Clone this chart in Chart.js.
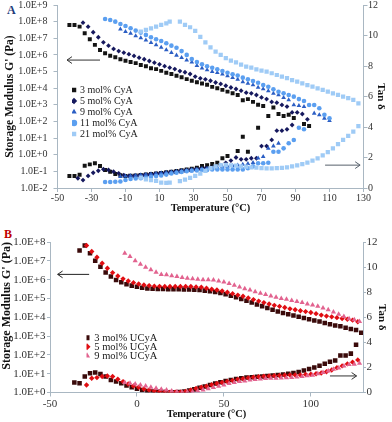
<!DOCTYPE html>
<html><head><meta charset="utf-8">
<script src="https://cdn.jsdelivr.net/npm/chart.js"></script>
<style>
html,body{margin:0;padding:0;background:#fff;width:392px;height:422px;overflow:hidden;position:relative}
canvas{position:absolute;left:0}
.lbl{position:absolute;font-family:'Liberation Serif',serif;font-weight:bold;font-size:12px;line-height:1}
</style></head><body>
<div class="lbl" style="left:7px;top:4px;color:#1f3d7a">A</div>
<div class="lbl" style="left:4px;top:228px;color:#c00000">B</div>
<canvas id="cA" width="392" height="233" style="top:-15px"></canvas>
<canvas id="cB" width="392" height="200" style="top:222px"></canvas>
<script>
// ---------- Panel A : CyA ----------
const xTicksA = [-50,-30,-10,10,30,50,70,90,110,130];
const tA3 = [-43,-40,-37,-34,-31,-28,-25,-22,-19,-16,-13,-10,-7,-4,-1,2,5,8,11,14,17,20,23,26,29,32,35,38,41,44,47,50,53,56,59,62,65,68,71,74,77,80,83,86,89,95,98];
const gA3 = [6.3e7,6.3e7,5.0e7,2.0e7,8.7e6,4.0e6,2.0e6,1.26e6,9.0e5,7.2e5,5.5e5,4.5e5,3.7e5,3.2e5,2.5e5,2.1e5,1.6e5,1.4e5,1.1e5,8.5e4,7.1e4,5.6e4,4.5e4,3.5e4,2.8e4,2.3e4,1.9e4,1.6e4,1.2e4,1.0e4,7.9e3,6.2e3,5.0e3,3.9e3,1.9e3,2.2e3,1.5e3,1.0e3,8.5e2,null,6.8e2,2.8e2,2.1e2,2.5e2,1.6e2,71,54];
const dA3 = [0.79,0.79,0.87,1.46,1.55,1.62,1.44,1.18,1.07,0.92,0.83,0.79,0.80,0.82,0.85,0.88,0.92,0.95,0.99,1.03,1.07,1.12,1.17,1.22,1.27,1.33,1.44,1.50,1.58,1.66,1.95,2.10,null,2.43,3.36,2.38,null,3.95,null,4.72,null,null,null,null,null,null,null];

const tA5 = [-38,-35,-32,-29,-26,-23,-20,-17,-14,-11,-8,-5,-2,1,4,7,10,13,16,19,22,25,28,31,34,37,40,43,46,49,52,55,58,61,64,67,70,73,76,79,82,85,88,91,94,97];
const gA5 = [null,8.7e7,5.0e7,2.3e7,1.15e7,5.7e6,3.6e6,2.3e6,1.7e6,1.36e6,1.1e6,8.7e5,6.8e5,5.5e5,4.3e5,3.4e5,2.7e5,2.1e5,1.7e5,1.4e5,1.07e5,9.1e4,7.1e4,5.0e4,3.9e4,3.4e4,2.8e4,2.2e4,1.8e4,1.4e4,1.1e4,8.9e3,7.1e3,5.4e3,4.9e3,3.9e3,2.8e3,2.2e3,1.5e3,1.35e3,9.8e2,7.8e2,3.5e2,3.5e2,2.8e2,1.35e2];
const dA5 = [0.64,0.52,0.79,1.00,1.13,1.23,1.18,1.07,0.96,0.85,0.79,0.80,0.82,0.85,0.88,0.91,0.95,0.98,1.02,1.06,1.10,1.14,1.18,1.22,1.26,1.30,1.34,1.40,1.50,1.65,1.80,2.00,1.88,1.88,1.95,1.95,2.75,2.75,3.15,3.76,3.76,3.85,4.13,null,null,null];

const tA9 = [-13,-10,-7,-4,-1,2,5,8,11,14,17,20,23,26,29,32,35,38,41,44,47,50,53,56,59,62,65,68,71,74,77,80,83,86,89,92,95,98,101,104,107,110];
const gA9 = [3.5e7,2.5e7,1.95e7,1.38e7,1.05e7,7.6e6,5.4e6,4.0e6,2.8e6,2.0e6,1.36e6,9.5e5,6.8e5,4.8e5,3.7e5,2.3e5,1.58e5,1.24e5,9.8e4,8.5e4,6.9e4,5.4e4,4.3e4,3.4e4,2.4e4,1.95e4,1.55e4,1.1e4,8.9e3,6.8e3,4.9e3,3.9e3,2.7e3,1.95e3,9.8e2,8.9e2,7.8e2,null,3.1e2,2.5e2,1.55e2,1.12e2];
const dA9 = [0.75,0.78,0.80,0.83,0.86,0.89,0.92,0.95,0.99,1.02,1.05,1.09,1.13,1.17,1.20,1.23,1.26,1.29,1.32,1.35,1.38,1.42,1.46,1.50,1.55,1.60,1.66,1.95,2.05,2.60,2.75,2.93,null,null,null,null,null,null,null,null,null,null];

const tA11 = [-22,-19,-16,-13,-10,-7,-4,-1,2,5,8,11,14,17,20,23,26,29,32,35,38,41,44,47,50,53,56,59,62,65,68,71,74,77,80,83,86,89,92,95,98,101,104,107,110];
const gA11 = [1.45e8,1.26e8,1.0e8,7.2e7,5.5e7,4.0e7,2.9e7,2.2e7,1.6e7,1.15e7,8.7e6,6.9e6,5.0e6,3.6e6,2.7e6,1.7e6,1.0e6,5.6e5,3.7e5,2.7e5,2.1e5,1.7e5,1.37e5,1.07e5,8.5e4,6.9e4,5.7e4,4.3e4,3.4e4,2.7e4,2.1e4,1.55e4,1.23e4,8.5e3,6.1e3,4.9e3,3.9e3,3.1e3,2.2e3,1.7e3,9.8e2,9.8e2,6.2e2,2.5e2,1.55e2];
const dA11 = [0.39,0.39,0.41,0.43,0.52,0.59,0.62,0.64,0.68,0.74,0.78,0.82,0.88,0.95,1.00,1.05,1.10,1.13,1.15,1.18,1.18,1.22,1.22,1.22,1.22,1.22,1.22,1.22,1.30,1.42,1.62,1.62,1.66,2.38,2.38,2.60,2.93,3.15,3.95,3.85,null,null,null,null,null];

const tA21 = [-1,2,5,8,11,14,16,22,25,28,31,34,37,40,43,46,49,52,55,58,61,64,67,70,73,76,79,82,85,88,91,94,97,100,103,106,109,112,115,118,121,124,127];
const gA21 = [2.5e7,3.2e7,4.0e7,5.0e7,6.3e7,7.9e7,1.0e8,1.0e8,6.3e7,4.6e7,2.8e7,1.2e7,5.6e6,2.8e6,1.6e6,1.0e6,6.5e5,4.6e5,3.5e5,2.6e5,2.0e5,1.7e5,1.37e5,1.13e5,9.8e4,7.9e4,6.2e4,4.9e4,4.0e4,3.1e4,2.5e4,1.95e4,1.55e4,1.23e4,9.8e3,7.8e3,6.2e3,4.9e3,3.9e3,3.1e3,2.5e3,1.95e3,1.23e3];
const dA21 = [0.68,0.57,0.52,0.46,0.36,0.33,0.35,0.45,0.55,0.66,0.79,0.95,1.12,1.30,1.42,1.50,1.51,1.48,1.46,1.42,1.40,1.36,1.33,1.30,1.29,1.29,1.30,1.32,1.36,1.42,1.48,1.56,1.66,1.80,1.95,2.14,2.35,2.60,2.87,3.15,3.42,3.70,4.05];

// ---------- Panel B : UCyA ----------
const xTicksB = [-50,0,50,100];
const tB3 = [-36,-33,-30,-27,-24,-21,-18,-15,-12,-9,-6,-3,0,3,6,9,12,15,18,21,24,27,30,33,36,39,42,45,48,51,54,57,60,63,66,69,72,75,78,81,84,87,90,93,96,99,102,105,108,111,114,117,120,123,126,129];
const gB3 = [null,3.5e7,6.5e7,2.5e7,1.0e7,4.9e6,2.4e6,1.45e6,9.6e5,7.2e5,5.6e5,4.8e5,4.2e5,3.7e5,3.4e5,3.3e5,3.2e5,3.2e5,3.1e5,3.1e5,3.1e5,3.0e5,3.0e5,2.9e5,2.8e5,2.6e5,2.4e5,2.2e5,1.95e5,1.65e5,1.4e5,1.15e5,9.3e4,7.5e4,6.0e4,4.8e4,3.9e4,3.1e4,2.5e4,2.0e4,1.7e4,1.45e4,1.25e4,1.05e4,9.0e3,7.8e3,6.8e3,6.0e3,5.0e3,4.3e3,3.6e3,3.3e3,2.8e3,2.4e3,2.1e3,1.5e3];
const dB3 = [0.79,0.74,1.27,1.54,1.59,1.48,1.27,1.00,0.87,0.74,0.55,0.42,0.30,0.20,0.12,0.08,0.05,0.03,0.02,0.02,0.03,0.08,0.15,0.25,0.38,0.48,0.60,0.72,0.82,0.92,1.00,1.08,1.14,1.19,1.22,1.25,1.28,1.31,1.35,1.39,1.44,1.50,1.56,1.64,1.76,1.88,2.00,2.13,2.30,2.45,2.55,2.95,2.95,3.10,3.80,null];

const tB5 = [-29,-26,-23,-20,-17,-14,-11,-8,-5,-2,1,4,7,10,13,16,19,22,25,28,31,34,37,40,43,46,49,52,55,58,61,64,67,70,73,76,79,82,85,88,91,94,97,100,103,106,109,112,115,118,121,124,127];
const gB5 = [6.5e7,3.1e7,1.55e7,7.4e6,4.0e6,2.35e6,1.57e6,1.1e6,8.5e5,6.9e5,5.9e5,5.2e5,4.8e5,4.5e5,4.4e5,4.3e5,4.3e5,4.3e5,4.3e5,4.3e5,4.3e5,4.1e5,3.9e5,3.5e5,3.1e5,2.8e5,2.5e5,2.15e5,1.8e5,1.5e5,1.3e5,1.05e5,8.7e4,7.2e4,6.0e4,5.1e4,4.3e4,3.8e4,3.3e4,2.8e4,2.5e4,2.2e4,2.0e4,1.8e4,1.55e4,1.3e4,1.15e4,1.05e4,9.5e3,8.6e3,7.8e3,7.0e3,5.8e3];
const dB5 = [0.60,1.14,1.19,1.27,1.32,1.27,1.06,0.87,0.68,0.52,0.42,0.28,0.20,0.12,0.06,0.03,0.02,0.02,0.03,0.08,0.20,0.32,0.42,0.50,0.62,0.72,0.80,0.88,0.96,1.05,1.10,1.17,1.21,1.26,1.29,1.32,1.33,1.35,1.37,1.40,1.40,1.40,1.43,1.46,1.50,1.56,1.65,1.80,1.97,2.12,2.28,2.42,2.60];

const tB9 = [-7,-4,-1,2,5,8,11,14,17,20,23,26,29,32,35,38,41,44,47,50,53,56,59,62,65,68,71,74,77,80,83,86,89,92,95,98,101,104,107,110,113,116,119,122,125,128];
const gB9 = [2.5e7,1.7e7,1.0e7,6.6e6,4.6e6,3.3e6,2.5e6,1.9e6,1.8e6,1.6e6,1.45e6,1.3e6,1.17e6,1.1e6,1.05e6,1.0e6,1.0e6,9.6e5,8.5e5,7.5e5,6.3e5,5.1e5,4.0e5,3.3e5,2.8e5,2.3e5,1.9e5,1.6e5,1.35e5,1.15e5,1.0e5,9.0e4,7.8e4,6.8e4,6.0e4,5.0e4,4.5e4,3.8e4,3.1e4,2.5e4,1.9e4,1.45e4,1.1e4,8.3e3,7.3e3,6.0e3];
const dB9 = [0.79,0.74,0.68,0.60,0.52,0.42,0.34,0.26,0.20,0.12,0.06,0.02,0.04,0.06,0.12,0.20,0.30,0.40,0.50,0.60,0.72,0.80,0.87,0.92,1.00,1.04,1.08,1.11,1.14,1.14,1.15,1.17,1.20,1.23,1.28,1.33,1.38,1.50,1.60,1.72,1.85,1.96,2.12,2.24,2.26,2.34];

// ---------- styling (kept apart from the data) ----------
const F = "'Liberation Serif','Times New Roman',serif";
const AX = '#a9b7c2';
const seriesA = [
  {label:'3 mol% CyA',  t:tA3,  g:gA3,  d:dA3,  color:'#141414', style:'rect',     r:2.8},
  {label:'5 mol% CyA',  t:tA5,  g:gA5,  d:dA5,  color:'#16195e', style:'rectRot',  r:2.4},
  {label:'9 mol% CyA',  t:tA9,  g:gA9,  d:dA9,  color:'#2b5ec4', style:'triangle', r:2.7},
  {label:'11 mol% CyA', t:tA11, g:gA11, d:dA11, color:'#5b9ff0', style:'circle',   r:2.3},
  {label:'21 mol% CyA', t:tA21, g:gA21, d:dA21, color:'#9fcbf6', style:'rect',     r:3.0}
];
const seriesB = [
  {label:'3 mol% UCyA', t:tB3, g:gB3, d:dB3, color:'#3a0a0a', style:'rect',     r:3.2},
  {label:'5 mol% UCyA', t:tB5, g:gB5, d:dB5, color:'#e00d12', style:'rectRot',  r:2.7},
  {label:'9 mol% UCyA', t:tB9, g:gB9, d:dB9, color:'#e2638f', style:'triangle', r:3.0}
];

function pts(t, v){ const o=[]; for(let i=0;i<t.length;i++){ if(v[i]!=null) o.push({x:t[i], y:v[i]}); } return o; }
function buildDatasets(series){
  const ds=[];
  series.forEach((s,i)=>{
    const common = {pointStyle:s.style, pointRadius:s.r, pointHoverRadius:s.r, backgroundColor:s.color, borderColor:s.color, borderWidth:0, showLine:false, order:-i};
    ds.push(Object.assign({label:s.label, data:pts(s.t,s.g), yAxisID:'y', isTan:false}, common));
    ds.push(Object.assign({label:s.label+' tan', data:pts(s.t,s.d), yAxisID:'y1', isTan:true}, common));
  });
  return ds;
}
const expFmt = v => { const e=Math.round(Math.log10(v)); return '1.0E'+(e<0?'-':'+')+Math.abs(e); };

const legendPos = {
  id:'legendPos',
  afterLayout(chart, args, o){
    const lg = chart.legend;
    if(lg && o.x!=null){ lg.left = o.x; lg.top = o.y; lg.right = o.x + 200; lg.bottom = o.y + 200; }
  }
};
const arrowPlugin = {
  id:'arrows',
  afterDatasetsDraw(chart, args, o){
    const ctx = chart.ctx;
    (o.list||[]).forEach(a=>{
      const xs = chart.scales.x, ys = chart.scales[a.axis];
      const x1=xs.getPixelForValue(a.from[0]), y1=ys.getPixelForValue(a.from[1]);
      const x2=xs.getPixelForValue(a.to[0]),   y2=ys.getPixelForValue(a.to[1]);
      const ang=Math.atan2(y2-y1,x2-x1), L=6, w=0.6;
      ctx.save(); ctx.strokeStyle=a.color; ctx.lineWidth=1;
      ctx.beginPath(); ctx.moveTo(x1,y1); ctx.lineTo(x2,y2);
      ctx.moveTo(x2-L*Math.cos(ang-w), y2-L*Math.sin(ang-w)); ctx.lineTo(x2,y2);
      ctx.lineTo(x2-L*Math.cos(ang+w), y2-L*Math.sin(ang+w));
      ctx.stroke(); ctx.restore();
    });
  }
};

function makeChart(id, series, cfg){
  return new Chart(document.getElementById(id), {
    type:'scatter',
    data:{datasets:buildDatasets(series)},
    plugins:[legendPos, arrowPlugin],
    options:{
      responsive:false, animation:false, devicePixelRatio:1, events:[],
      layout:{padding:{top:20,left:0,right:0,bottom:0}},
      plugins:{
        tooltip:{enabled:false},
        legend:{display:true, position:'chartArea', align:'start',
          labels:{usePointStyle:true, boxWidth:cfg.legBoxW, boxHeight:cfg.legBox, padding:cfg.legPad,
            font:{family:F,size:cfg.legFont}, color:'#1a1a1a',
            filter:(item,data)=>!data.datasets[item.datasetIndex].isTan,
            sort:(a,b)=>a.datasetIndex-b.datasetIndex}},
        legendPos:{x:cfg.legX, y:cfg.legY},
        arrows:{list:cfg.arrows}
      },
      scales:{
        x:{type:'linear', min:-50, max:130,
          afterBuildTicks:s=>{ s.ticks = cfg.xTicks.map(v=>({value:v})); },
          ticks:{font:{family:F,size:cfg.tickFont}, color:'#333', padding:cfg.xPad, maxRotation:0, autoSkip:false, callback:v=>String(v)},
          grid:{display:true, drawOnChartArea:false, drawTicks:true, tickLength:4, color:AX},
          border:{display:true, color:AX, width:1},
          title:{display:true, text:'Temperature (°C)', font:{family:F,size:10.5,weight:'bold'}, color:'#111', padding:{top:0,bottom:cfg.xTitlePad}},
          afterFit:s=>{ s.height = cfg.xH; }},
        y:{type:'logarithmic', position:'left', min:cfg.gMin, max:cfg.gMax,
          afterBuildTicks:s=>{ s.ticks = cfg.gTicks.map(v=>({value:v})); },
          ticks:{font:{family:F,size:cfg.tickFont}, color:'#333', padding:cfg.yPad, autoSkip:false, callback:expFmt},
          grid:{display:true, drawOnChartArea:false, drawTicks:true, tickLength:cfg.yTick, color:AX},
          border:{display:true, color:AX, width:1},
          title:{display:true, align:cfg.yTitleAlign, text:"Storage Modulus G' (Pa)", font:{family:F,size:cfg.yTitleFont,weight:'bold'}, color:'#111', padding:{top:cfg.yTitlePad,bottom:0}},
          afterFit:s=>{ s.width = cfg.left; }},
        y1:{type:'linear', position:'right', min:0, max:12,
          ticks:{stepSize:2, font:{family:F,size:cfg.tickFont}, color:'#333', padding:0.5, autoSkip:false},
          grid:{display:true, drawOnChartArea:false, drawTicks:true, tickLength:cfg.yTick, color:AX},
          border:{display:true, color:AX, width:1},
          title:{display:true, text:'Tan δ', font:{family:F,size:11,weight:'bold'}, color:'#111', padding:{top:cfg.tanPad,bottom:0}},
          afterFit:s=>{ s.width = cfg.right; }}
      }
    }
  });
}

const decA = [1e-2,1e-1,1e0,1e1,1e2,1e3,1e4,1e5,1e6,1e7,1e8,1e9];
const decB = [1e0,1e1,1e2,1e3,1e4,1e5,1e6,1e7,1e8];

makeChart('cA', seriesA, {
  xTicks:xTicksA, gMin:1e-2, gMax:1e9, gTicks:decA,
  left:57.5, right:28.5, xH:30, tickFont:10, xPad:0, yPad:6, yTick:4, yTitlePad:3, yTitleAlign:'center', yTitleFont:11.5, tanPad:5, xTitlePad:3,
  legFont:10, legPad:1, legBox:4.5, legBoxW:2, legX:72, legY:99,
  arrows:[{from:[-25,4.9e5], to:[-44.4,4.9e5], axis:'y', color:'#333'},
          {from:[107.4,1.5], to:[128,1.5], axis:'y1', color:'#56606b'}]
});
makeChart('cB', seriesB, {
  xTicks:xTicksB, gMin:1, gMax:1e8, gTicks:decB,
  left:50, right:29, xH:29.5, tickFont:11, xPad:1.5, yPad:1.5, yTick:3, yTitlePad:0, yTitleAlign:'end', yTitleFont:12, tanPad:3.5, xTitlePad:1.2,
  legFont:10.5, legPad:-1.5, legBox:5, legBoxW:4, legX:86.5, legY:112,
  arrows:[{from:[-27.5,1.9e6], to:[-45.6,1.9e6], axis:'y', color:'#222'},
          {from:[111,1.32], to:[126.3,1.32], axis:'y1', color:'#333'}]
});
</script>
</body></html>
